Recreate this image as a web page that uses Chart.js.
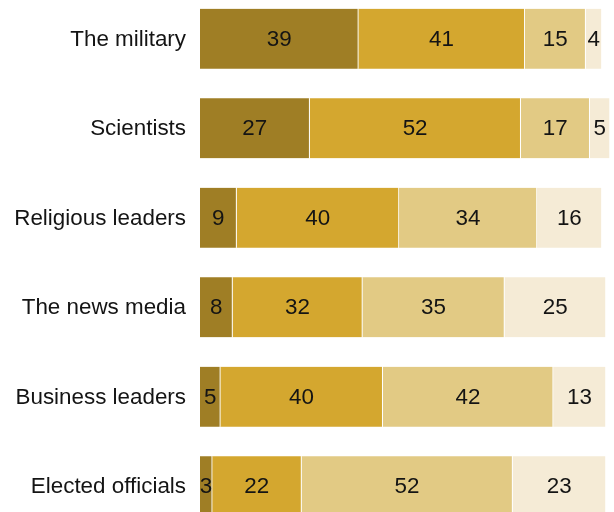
<!DOCTYPE html>
<html>
<head>
<meta charset="utf-8">
<script src="https://cdn.jsdelivr.net/npm/chart.js@4/dist/chart.umd.min.js"></script>
<style>
  html, body { margin: 0; padding: 0; background: #fff; overflow: hidden; }
  body { width: 614px; height: 512px; position: relative; }
  #wrap { position: absolute; left: 0; top: -6px; width: 614px; height: 537px; }
</style>
</head>
<body>
<div id="wrap"><canvas id="chart"></canvas></div>
<script>
const categories = ['The military', 'Scientists', 'Religious leaders', 'The news media', 'Business leaders', 'Elected officials'];
const greatDeal = [39, 27, 9, 8, 5, 3];
const fairAmount = [41, 52, 40, 32, 40, 22];
const notTooMuch = [15, 17, 34, 35, 42, 52];
const noConfidence = [4, 5, 16, 25, 13, 23];
const seriesColors = ['#9f7e25', '#d4a72f', '#e2ca84', '#f5ebd6'];

const FONT = '"Liberation Sans", Arial, sans-serif';
const TEXT = '#141414';

// category names right-aligned just left of the bars
const categoryLabels = {
  id: 'categoryLabels',
  afterDraw(chart) {
    const ctx = chart.ctx;
    const y = chart.scales.y;
    ctx.save();
    ctx.font = '22.4px ' + FONT;
    ctx.fillStyle = TEXT;
    ctx.textAlign = 'right';
    ctx.textBaseline = 'middle';
    chart.data.labels.forEach((label, i) => {
      ctx.fillText(label, chart.chartArea.left - 14, y.getPixelForTick(i) + 1);
    });
    ctx.restore();
  }
};

// writes each segment's value in the middle of its bar piece
const segmentLabels = {
  id: 'segmentLabels',
  afterDatasetsDraw(chart) {
    const ctx = chart.ctx;
    ctx.save();
    ctx.font = '22.4px ' + FONT;
    ctx.fillStyle = TEXT;
    ctx.textAlign = 'center';
    ctx.textBaseline = 'middle';
    chart.data.datasets.forEach((ds, i) => {
      chart.getDatasetMeta(i).data.forEach((bar, j) => {
        const cx = (bar.base + bar.x) / 2;
        ctx.fillText(String(ds.data[j]), cx, bar.y + 1);
      });
    });
    ctx.restore();
  }
};

const series = [greatDeal, fairAmount, notTooMuch, noConfidence];

new Chart(document.getElementById('chart'), {
  type: 'bar',
  data: {
    labels: categories,
    datasets: series.map((values, i) => ({
      data: values,
      backgroundColor: seriesColors[i],
      borderColor: '#ffffff',
      borderWidth: { left: 0, right: 1, top: 0, bottom: 0 },
      borderSkipped: false,
      barThickness: 60
    }))
  },
  options: {
    indexAxis: 'y',
    responsive: true,
    maintainAspectRatio: false,
    animation: false,
    layout: { padding: 0 },
    plugins: { legend: { display: false }, tooltip: { enabled: false } },
    scales: {
      x: { stacked: true, min: 0, max: 102, display: false },
      y: {
        stacked: true,
        grid: { display: false, drawTicks: false },
        border: { display: false },
        ticks: { display: false },
        afterFit(scale) { scale.width = 200; }
      }
    }
  },
  plugins: [segmentLabels, categoryLabels]
});
</script>
</body>
</html>
